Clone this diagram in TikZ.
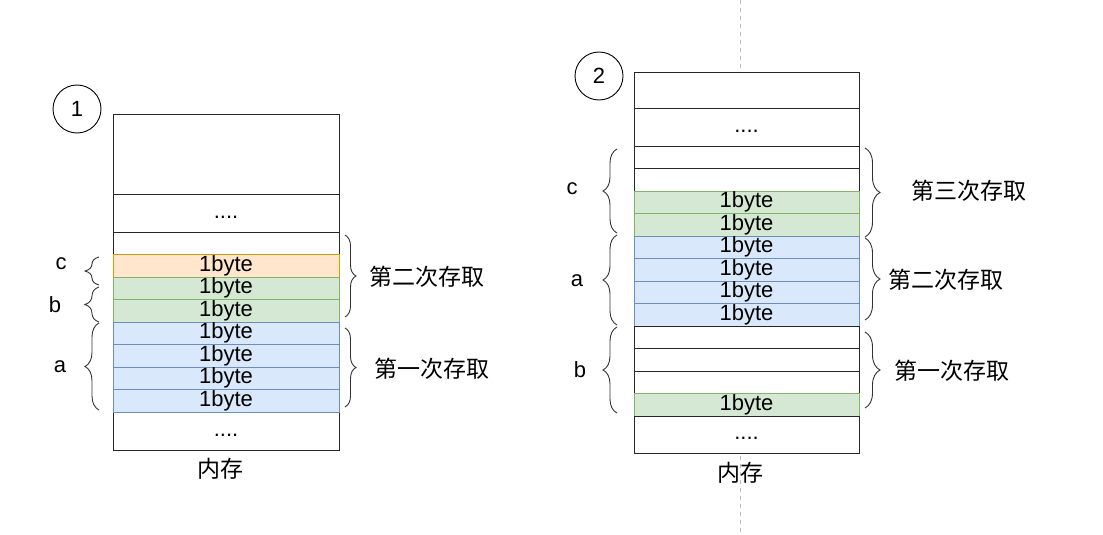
\documentclass[tikz,border=0pt]{standalone}
\usepackage{fontspec}
\setmainfont{Liberation Sans}
\newfontfamily\cjk{Noto Sans CJK SC}
\usetikzlibrary{decorations.pathreplacing}
\definecolor{oFill}{HTML}{FFE6CC}\definecolor{oLine}{HTML}{D79B00}
\definecolor{gFill}{HTML}{D5E8D4}\definecolor{gLine}{HTML}{82B366}
\definecolor{bFill}{HTML}{DAE8FC}\definecolor{bLine}{HTML}{6C8EBF}
\definecolor{sepGray}{HTML}{BDBDBD}
\tikzset{
  cell/.style={draw=black!85, line width=1pt, fill=white, inner sep=0pt, outer sep=0pt,
    font=\fontsize{22}{24}\selectfont, text=black},
  wcell/.style={cell},
  ocell/.style={cell, fill=oFill, draw=oLine},
  gcell/.style={cell, fill=gFill, draw=gLine},
  bcell/.style={cell, fill=bFill, draw=bLine},
  bracestyle/.style={decorate, decoration={brace, amplitude=#1}, draw=black!80, line width=0.9pt},
  lbl/.style={font=\fontsize{22}{24}\selectfont, inner sep=0pt},
  cjklbl/.style={font=\cjk\fontsize{23}{25}\selectfont, inner sep=0pt},
  numcirc/.style={circle, draw=black, line width=0.9pt, minimum size=48pt, inner sep=0pt,
    font=\fontsize{22}{24}\selectfont}
}
\newcommand{\dotsrow}{\vphantom{1y}....}
\begin{document}
\begin{tikzpicture}[x=1pt, y=-1pt]
\useasboundingbox (0,0) rectangle (1103,535);
% separator
\coordinate (dtop) at (740,0);
\coordinate (dbot) at (740,535);
\draw[sepGray, line width=0.9pt, dash pattern=on 4pt off 4pt] (dtop) -- (dbot);

% ---------- left diagram ----------
\node[numcirc] (n1) at (77,109) {1};
\def\LW{226pt}
\node[wcell, minimum width=\LW, minimum height=80pt] (LA) at (226,154) {};
\node[wcell, minimum width=\LW, minimum height=38pt] (LB) at (226,213) {\dotsrow};
\node[wcell, minimum width=\LW, minimum height=22pt] (LC) at (226,243) {};
\node[wcell, minimum width=\LW, minimum height=38pt] (LD) at (226,431) {\dotsrow};
\node[ocell, minimum width=\LW, minimum height=23pt] (Lc) at (226,265.5) {1byte};
\node[gcell, minimum width=\LW, minimum height=22pt] (Lb1) at (226,288) {1byte};
\node[gcell, minimum width=\LW, minimum height=23pt] (Lb2) at (226,310.5) {1byte};
\node[bcell, minimum width=\LW, minimum height=22.5pt] (La1) at (226,333.25) {1byte};
\node[bcell, minimum width=\LW, minimum height=22.5pt] (La2) at (226,355.75) {1byte};
\node[bcell, minimum width=\LW, minimum height=22.5pt] (La3) at (226,378.25) {1byte};
\node[bcell, minimum width=\LW, minimum height=22.5pt] (La4) at (226,400.75) {1byte};
\node[cjklbl] (Lmem) at (220,469) {内存};

% left braces (tip left)
\coordinate (Lcb-t) at (99,257); \coordinate (Lcb-b) at (99,285);
\coordinate (Lbb-t) at (99,287); \coordinate (Lbb-b) at (99,322);
\coordinate (Lab-t) at (99,323); \coordinate (Lab-b) at (99,410);
\draw[bracestyle=14pt] (Lcb-b) -- (Lcb-t);
\draw[bracestyle=14pt] (Lbb-b) -- (Lbb-t);
\draw[bracestyle=14pt] (Lab-b) -- (Lab-t);
\node[lbl] (Lcl) at (61,264) {c};
\node[lbl] (Lbl) at (55,305) {b};
\node[lbl] (Lal) at (60,367) {a};

% right braces (tip right)
\coordinate (Lr2-t) at (345,235); \coordinate (Lr2-b) at (345,317);
\coordinate (Lr1-t) at (345,328); \coordinate (Lr1-b) at (345,407);
\draw[bracestyle=11pt] (Lr2-t) -- (Lr2-b);
\draw[bracestyle=11pt] (Lr1-t) -- (Lr1-b);
\node[cjklbl] (L2nd) at (427,277) {第二次存取};
\node[cjklbl] (L1st) at (432,369) {第一次存取};

% ---------- right diagram ----------
\node[numcirc] (n2) at (599,76) {2};
\def\RW{225pt}
\node[wcell, minimum width=\RW, minimum height=35pt] (RA) at (746.5,90.5) {};
\node[wcell, minimum width=\RW, minimum height=38pt] (RB) at (746.5,127) {\dotsrow};
\node[wcell, minimum width=\RW, minimum height=22pt] (RC1) at (746.5,157) {};
\node[wcell, minimum width=\RW, minimum height=23pt] (RC2) at (746.5,179.5) {};
\node[gcell, minimum width=\RW, minimum height=22pt] (Rc1) at (746.5,202) {1byte};
\node[gcell, minimum width=\RW, minimum height=23pt] (Rc2) at (746.5,224.5) {1byte};
\node[bcell, minimum width=\RW, minimum height=22pt] (Ra1) at (746.5,247) {1byte};
\node[bcell, minimum width=\RW, minimum height=23pt] (Ra2) at (746.5,269.5) {1byte};
\node[bcell, minimum width=\RW, minimum height=22pt] (Ra3) at (746.5,292) {1byte};
\node[bcell, minimum width=\RW, minimum height=23pt] (Ra4) at (746.5,314.5) {1byte};
\node[wcell, minimum width=\RW, minimum height=22pt] (RE1) at (746.5,337) {};
\node[wcell, minimum width=\RW, minimum height=23pt] (RE2) at (746.5,359.5) {};
\node[wcell, minimum width=\RW, minimum height=22pt] (RE3) at (746.5,382) {};
\node[gcell, minimum width=\RW, minimum height=23pt] (Rb) at (746.5,404.5) {1byte};
\node[wcell, minimum width=\RW, minimum height=37pt] (RF) at (746.5,434.5) {\dotsrow};
\node[cjklbl] (Rmem) at (740,473) {内存};

% left braces (tip left)
\coordinate (Rcb-t) at (617,149); \coordinate (Rcb-b) at (617,233);
\coordinate (Rab-t) at (617,235); \coordinate (Rab-b) at (617,325);
\coordinate (Rbb-t) at (617,327); \coordinate (Rbb-b) at (617,413);
\draw[bracestyle=14pt] (Rcb-b) -- (Rcb-t);
\draw[bracestyle=14pt] (Rab-b) -- (Rab-t);
\draw[bracestyle=14pt] (Rbb-b) -- (Rbb-t);
\node[lbl] (Rcl) at (572,189) {c};
\node[lbl] (Ral) at (577,281) {a};
\node[lbl] (Rbl) at (580,370) {b};

% right braces (tip right)
\coordinate (Rr3-t) at (865,148); \coordinate (Rr3-b) at (865,237);
\coordinate (Rr2-t) at (865,238); \coordinate (Rr2-b) at (865,320);
\coordinate (Rr1-t) at (865,332); \coordinate (Rr1-b) at (865,408);
\draw[bracestyle=15pt] (Rr3-t) -- (Rr3-b);
\draw[bracestyle=15pt] (Rr2-t) -- (Rr2-b);
\draw[bracestyle=15pt] (Rr1-t) -- (Rr1-b);
\node[cjklbl] (R3rd) at (969,191) {第三次存取};
\node[cjklbl] (R2nd) at (946,280) {第二次存取};
\node[cjklbl] (R1st) at (952,371) {第一次存取};
\end{tikzpicture}
\end{document}
